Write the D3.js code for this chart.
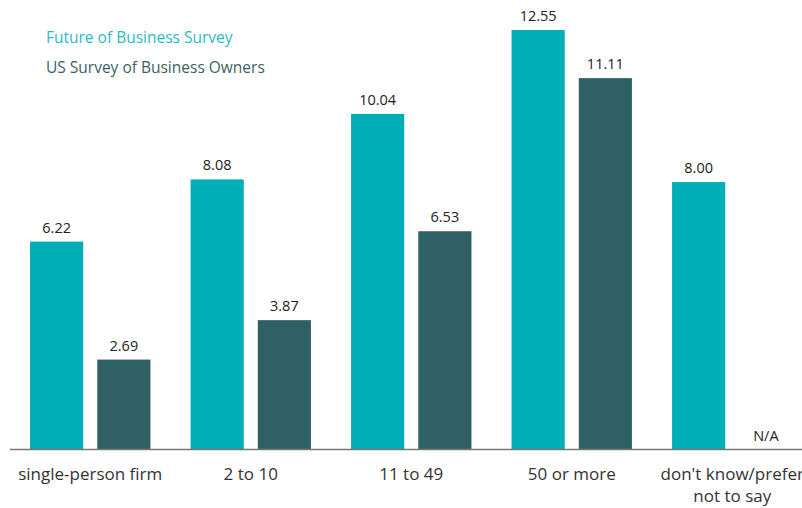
<!DOCTYPE html>
<html><head><meta charset="utf-8">
<script src="https://cdn.jsdelivr.net/npm/d3@7/dist/d3.min.js"></script>
<style>body{margin:0;background:#fff;}svg{display:block;font-family:"Open Sans",Lato,sans-serif;}</style>
</head><body><svg id="c" width="802" height="508"></svg>
<script>
const categories = ["single-person firm","2 to 10","11 to 49","50 or more","don't know/prefer|not to say"];
const seriesNames = ["Future of Business Survey","US Survey of Business Owners"];
const futureValues = [6.22, 8.08, 10.04, 12.55, 8.00];
const usValues = [2.69, 3.87, 6.53, 11.11, null];
const colors = ["#00aeb8", "#2f6066"];
const legendColors = ["#2bbbc3", "#3d6166"];

const svg = d3.select("#c");
const x0 = d3.scaleBand().domain(categories).range([10, 812.5]).paddingInner(0).paddingOuter(0);
const x1 = d3.scaleBand().domain(seriesNames).range([0, x0.bandwidth()]).paddingInner(14/67).paddingOuter(20/67*0.5*2);
const y = d3.scaleLinear().domain([0, 12.55]).range([449.5, 30]);

const data = categories.map((c,i)=>({c, vals:[futureValues[i], usValues[i]]}));

const g = svg.selectAll("g.grp").data(data).enter().append("g")
  .attr("transform", d=>`translate(${x0(d.c)},0)`);

g.selectAll("rect").data(d=>d.vals.map((v,j)=>({v,s:seriesNames[j],j})).filter(e=>e.v!=null))
  .enter().append("rect")
  .attr("x", e=>x1(e.s)).attr("width", x1.bandwidth())
  .attr("y", e=>y(e.v)).attr("height", e=>y(0)-y(e.v))
  .attr("fill", e=>colors[e.j]);

g.selectAll("text.val").data(d=>d.vals.map((v,j)=>({v,s:seriesNames[j],j})))
  .enter().append("text")
  .attr("x", e=>x1(e.s)+x1.bandwidth()/2)
  .attr("y", e=>e.v==null ? y(0)-9 : y(e.v)-9)
  .attr("text-anchor","middle").attr("font-size",14.5).attr("fill","#222")
  .text(e=>e.v==null ? "N/A" : e.v.toFixed(2));

svg.append("line").attr("x1",10).attr("x2",802).attr("y1",y(0)).attr("y2",y(0))
  .attr("stroke","#777").attr("stroke-width",1.6);

const lab = svg.selectAll("text.cat").data(categories).enter().append("text")
  .attr("text-anchor","middle").attr("font-size",17).attr("fill","#333")
  .attr("x", d=>x0(d)+x0.bandwidth()/2).attr("y", 480);
lab.selectAll("tspan").data(d=>d.split("|")).enter().append("tspan")
  .attr("x", function(){return d3.select(this.parentNode).attr("x");})
  .attr("dy",(d,i)=>i?22:0).text(d=>d);

seriesNames.forEach((s,i)=>{
  svg.append("text").attr("x",46).attr("y",43+i*30).attr("font-size",15.5)
    .attr("fill",legendColors[i]).text(s);
});
</script></body></html>
